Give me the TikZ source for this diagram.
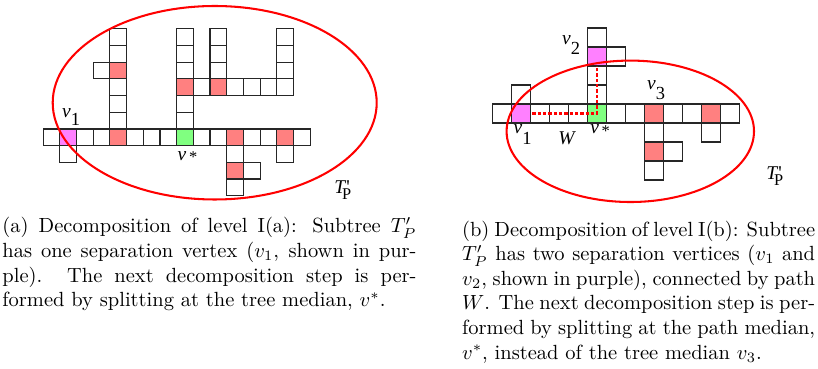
\documentclass[tikz,border=0pt]{standalone}
\usepackage{fontspec}
\newfontfamily\lab{Liberation Serif}
\definecolor{cred}{HTML}{FF8080}
\definecolor{cpur}{HTML}{FF80FF}
\definecolor{cgrn}{HTML}{80FF80}
\tikzset{
  cellA/.style={draw=black!85, line width=0.5pt, minimum size=8.13pt, inner sep=0pt, outer sep=0pt},
  cellB/.style={draw=black!85, line width=0.5pt, minimum size=9.27pt, inner sep=0pt, outer sep=0pt},
  region/.style={draw=red, line width=1pt},
  pathW/.style={draw=red, line width=1pt, dash pattern=on 1.6pt off 1pt},
  lbl/.style={anchor=base west, inner sep=0pt, font=\lab\fontsize{9.5}{11}\selectfont},
  captxt/.style={anchor=base west, inner sep=0pt, align=left},
}
\newcommand\ca[4]{\node[cellA,fill=#4] (#1) at ({43.3+(#2+0.5)*16.67},{129+(#3+0.5)*16.67}) {};}
\newcommand\cb[4]{\node[cellB,fill=#4] (#1) at ({492.3+(#2+0.5)*19},{104+(#3+0.5)*19}) {};}
\newcommand\vsub[2]{{\itshape v}\raisebox{#2}{\fontsize{9}{9}\selectfont #1}}
\newcommand\vstar{{\itshape v}\kern1.3pt\raisebox{-1pt}{\fontsize{8}{8}\selectfont *}}
\newcommand\TPlab{{\itshape T}\rlap{\kern0.6pt '}\kern-1.5pt\raisebox{-2.8pt}{\fontsize{8}{8}\selectfont P}}
\newcommand\jline[1]{\makebox[\linewidth][s]{#1}\\}
\begin{document}
\begin{tikzpicture}[x=0.4878pt,y=-0.4878pt]
\useasboundingbox (0,0) rectangle (818,369);
% ---------- panel (a) ----------
\foreach \i/\c in {0/white,1/cpur,2/white,3/white,4/cred,5/white,6/white,7/white,8/cgrn,9/white,10/white,11/cred,12/white,13/white,14/cred,15/white}{\ca{a\i_0}{\i}{0}{\c}}
\foreach \i/\j/\c in {1/1/white,
  4/-1/white,4/-2/white,4/-3/white,4/-4/cred,4/-5/white,4/-6/white,3/-4/white,
  8/-1/white,8/-2/white,8/-3/cred,8/-4/white,8/-5/white,8/-6/white,
  9/-3/white,10/-3/cred,11/-3/white,12/-3/white,13/-3/white,14/-3/white,
  10/-4/white,10/-5/white,10/-6/white,
  14/-4/white,14/-5/white,14/-6/white,
  11/1/white,11/2/cred,12/2/white,11/3/white,
  14/1/white}{\ca{a\i_\j}{\i}{\j}{\c}}
\draw[region] (214.7,102.75) ellipse [x radius=79.02pt, y radius=47.19pt];
\node[lbl] (av1) at (61.7,117.3) {\vsub{1}{-4pt}};
\node[lbl] (avs) at (177.3,160.7) {\vstar};
\node[lbl] (aTP) at (334,193.3) {\TPlab};
% ---------- panel (b) ----------
\foreach \i/\c in {0/white,1/cpur,2/white,3/white,4/white,5/cgrn,6/white,7/white,8/cred,9/white,10/white,11/cred,12/white}{\cb{b\i_0}{\i}{0}{\c}}
\foreach \i/\j/\c in {1/-1/white,
  5/-1/white,5/-2/white,5/-3/cpur,5/-4/white,6/-3/white,
  8/1/white,8/2/cred,9/2/white,8/3/white,
  11/1/white}{\cb{b\i_\j}{\i}{\j}{\c}}
\draw[pathW] ([xshift=1pt]b1_0.east) -- (b5_0.center) -- (b5_-3.south);
\draw[region] (630.3,131.3) ellipse [x radius=60.34pt, y radius=34.49pt];
\node[lbl] (bv2) at (561.7,45) {\vsub{2}{-4.8pt}};
\node[lbl] (bv3) at (646.7,90) {\vsub{3}{-4.5pt}};
\node[lbl] (bv1) at (513.3,134) {\vsub{1}{-5pt}};
\node[lbl] (bW) at (558,145) {\itshape W};
\node[lbl] (bvs) at (590,134) {\vstar};
\node[lbl] (bTP) at (766,179.3) {\TPlab};
% ---------- captions ----------
\node[captxt] (capA) at (2,233) {\parbox[t]{202pt}{%
\jline{(a) Decomposition of level I(a): Subtree $T'_P$}
\jline{has one separation vertex ($v_1$, shown in pur-}
\jline{ple). The next decomposition step is per-}
formed by splitting at the tree median, $v^*$.}};
\node[captxt] (capB) at (461.7,236) {\parbox[t]{172.2pt}{%
\jline{(b) Decomposition of level I(b): Subtree}
\jline{$T'_P$ has two separation vertices ($v_1$ and}
\jline{$v_2$, shown in purple), connected by path}
\jline{$W$. The next decomposition step is per-}
\jline{formed by splitting at the path median,}
$v^*$, instead of the tree median $v_3$.}};
\end{tikzpicture}
\end{document}
